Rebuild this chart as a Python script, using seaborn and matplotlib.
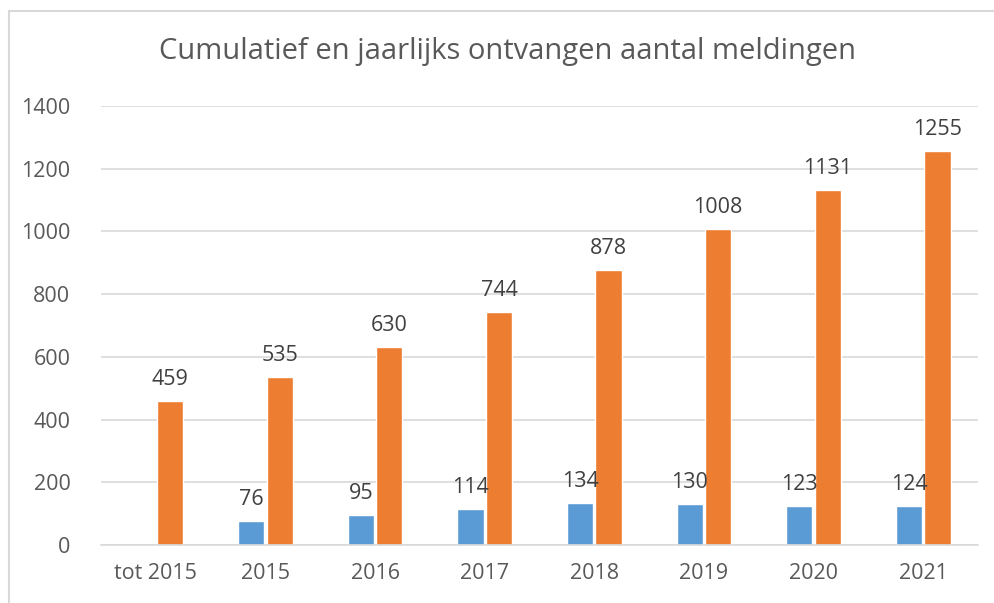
import numpy as np
import pandas as pd
import matplotlib
matplotlib.use("Agg")
import matplotlib.pyplot as plt
import seaborn as sns

categories = ['tot 2015', '2015', '2016', '2017', '2018', '2019', '2020', '2021']
jaarlijks = [np.nan, 76, 95, 114, 134, 130, 123, 124]
cumulatief = [459, 535, 630, 744, 878, 1008, 1131, 1255]

df = pd.DataFrame({
    'Jaar': categories * 2,
    'Aantal': jaarlijks + cumulatief,
    'Reeks': ['Jaarlijks'] * len(categories) + ['Cumulatief'] * len(categories),
})

sns.set_style("white")
plt.rcParams['font.family'] = ['Open Sans', 'DejaVu Sans']
text_col = '#595959'

fig = plt.figure(figsize=(9.95, 6.03), dpi=100)
ax = fig.add_axes([101 / 995, 58 / 603, 877 / 995, 439 / 603])

sns.barplot(data=df, x='Jaar', y='Aantal', hue='Reeks', order=categories,
            palette=['#5B9BD5', '#ED7D31'], width=0.52, gap=0.08,
            saturation=1, legend=False, ax=ax)

for cont in ax.containers:
    labels = ['' if np.isnan(v) else f'{int(v)}' for v in cont.datavalues]
    ax.bar_label(cont, labels=labels, padding=8, fontsize=15.5, color='#404040')

ax.set_ylim(0, 1400)
ax.set_xlim(-0.5, len(categories) - 0.5)
ax.set_yticks(range(0, 1401, 200))
ax.yaxis.grid(True, color='#D9D9D9', linewidth=1.2)
ax.set_axisbelow(True)
ax.tick_params(axis='both', length=0, labelsize=15.5, labelcolor=text_col)
ax.tick_params(axis='y', pad=22)
ax.tick_params(axis='x', pad=13)
ax.set_xlabel('')
ax.set_ylabel('')
sns.despine(ax=ax, left=True, top=True, right=True, bottom=False)
ax.spines['bottom'].set_color('#D9D9D9')
ax.spines['bottom'].set_linewidth(1.2)

fig.text(0.51, 0.915, 'Cumulatief en jaarlijks ontvangen aantal meldingen',
         ha='center', va='center', fontsize=21, color=text_col)

# chart border
fig.patches.append(plt.Rectangle((9 / 995, -0.05), 1.1, 1.05 - 11 / 603,
                                 transform=fig.transFigure, fill=False,
                                 edgecolor='#D9D9D9', linewidth=1.5))

plt.savefig('out.png', dpi=100)
